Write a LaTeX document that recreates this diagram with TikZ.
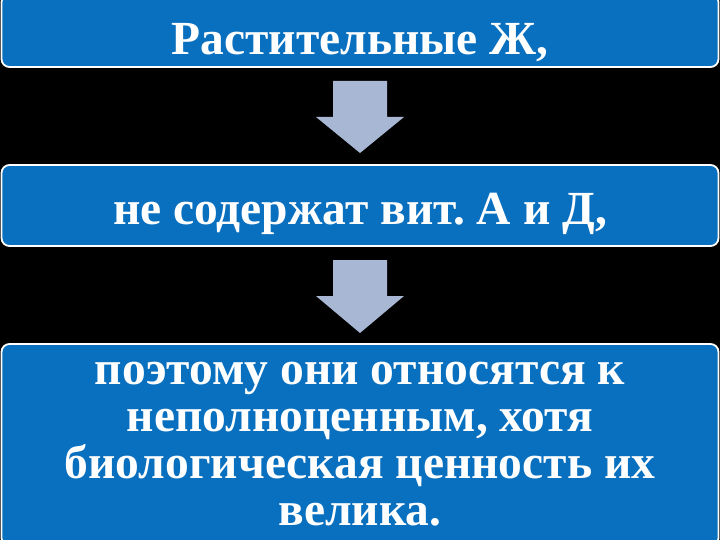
\documentclass[tikz,border=0pt]{standalone}
\usepackage{fontspec}
\setmainfont{Liberation Serif}
\definecolor{boxblue}{RGB}{9,112,192}
\definecolor{arrowgray}{RGB}{168,184,212}
\tikzset{
  blockbox/.style={draw=white, line width=1.8pt, fill=boxblue, rounded corners=8pt},
  blocktext/.style={text=white, align=center, anchor=base, inner sep=0pt,
    font=\fontsize{47.5}{47}\selectfont\bfseries\frenchspacing},
  downarrow/.style={fill=arrowgray, draw=none}
}
\begin{document}
\begin{tikzpicture}[x=1pt,y=-1pt]
\fill[black] (0,0) rectangle (720,540);
\useasboundingbox (0,0) rectangle (720,540);
% boxes
\draw[blockbox] (1.5,-6) rectangle (718.5,67);
\node[blocktext] (t1) at (360,55) {Растительные Ж,};
\draw[blockbox] (1.5,165) rectangle (718.5,246);
\node[blocktext] (t2) at (360,225) {не содержат вит. А и Д,};
\draw[blockbox] (1.5,344) rectangle (718.5,546);
\node[blocktext] (t3) at (360,525) {поэтому они относятся к\\неполноценным, хотя\\биологическая ценность их\\велика.};
% arrows
\fill[downarrow] (333,81) -- (387,81) -- (387,117) -- (404,117) -- (360,153) -- (316,117) -- (333,117) -- cycle;
\fill[downarrow] (333,260) -- (387,260) -- (387,296) -- (404,296) -- (360,333) -- (316,296) -- (333,296) -- cycle;
\end{tikzpicture}
\end{document}
